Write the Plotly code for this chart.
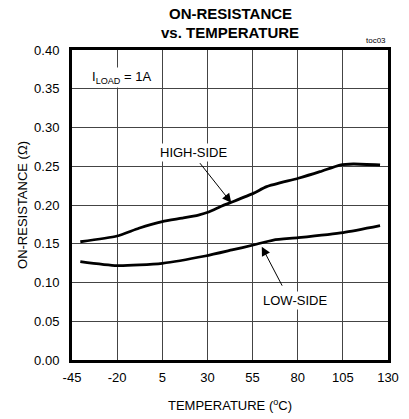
import plotly.graph_objects as go

temp_high = [-40.4, -20, -8, 5, 16, 25, 30.7, 38, 42.7, 55.4, 62.8, 80.3, 92.3, 103.4, 110.8, 125.6]
r_high = [0.1526, 0.160, 0.170, 0.1785, 0.183, 0.187, 0.191, 0.1987, 0.203, 0.215, 0.2237, 0.2345, 0.243, 0.2516, 0.2529, 0.2516]

temp_low = [-40.4, -20, 5, 28.8, 43.6, 55.4, 66.5, 80.3, 105.2, 125.6]
r_low = [0.1269, 0.1217, 0.1248, 0.1342, 0.142, 0.1484, 0.1548, 0.1578, 0.1643, 0.1733]

x_ticks = [-45, -20, 5, 30, 55, 80, 105, 130]
x_tick_text = ["-45", "-20", "5", "30", "55", "80", "105", "130"]
y_ticks = [0.00, 0.05, 0.10, 0.15, 0.20, 0.25, 0.30, 0.35, 0.40]

FONT = "Liberation Sans, Arial, sans-serif"
fig = go.Figure()
for tx, ry in ((temp_high, r_high), (temp_low, r_low)):
    fig.add_trace(go.Scatter(x=tx, y=ry, mode="lines", hoverinfo="skip",
                             line=dict(color="black", width=2.8, shape="spline", smoothing=0.6)))

fig.update_layout(
    width=409, height=419,
    margin=dict(l=72, r=21, t=50, b=59),
    paper_bgcolor="white", plot_bgcolor="white",
    showlegend=False,
    font=dict(family=FONT, size=13, color="black"),
)
fig.update_xaxes(range=[-45, 130], tickvals=x_ticks, ticktext=x_tick_text, showgrid=True,
                 gridcolor="#444444", gridwidth=1, zeroline=False, showline=True,
                 linecolor="black", linewidth=3, mirror=True, automargin=False,
                 ticks="outside", ticklen=3, tickcolor="rgba(0,0,0,0)",
                 title=dict(text="TEMPERATURE (<sup>o</sup>C)", standoff=18, font=dict(size=13)),
                 tickfont=dict(size=13))
fig.update_yaxes(range=[0, 0.40], tickvals=y_ticks, tickformat=".2f", showgrid=True,
                 gridcolor="#444444", gridwidth=1, zeroline=False, showline=True,
                 linecolor="black", linewidth=3, mirror=True, automargin=False,
                 ticks="outside", ticklen=7, tickcolor="rgba(0,0,0,0)",
                 title=dict(text="ON-RESISTANCE (Ω)", standoff=4, font=dict(size=13)),
                 tickfont=dict(size=13))

# title lines
fig.add_annotation(x=0.5, y=1.1177, xref="paper", yref="paper", yanchor="middle",
                   text="<b>ON-RESISTANCE</b>", showarrow=False, font=dict(size=15))
fig.add_annotation(x=0.5, y=1.0565, xref="paper", yref="paper", yanchor="middle",
                   text="<b>vs. TEMPERATURE</b>", showarrow=False, font=dict(size=15))

# arrows
fig.add_annotation(x=43.2, y=0.203, ax=25.2, ay=0.2559, xref="x", yref="y", axref="x", ayref="y",
                   text="", showarrow=True, arrowhead=2, arrowsize=1.8, arrowwidth=1,
                   arrowcolor="black")
fig.add_annotation(x=60.1, y=0.1462, ax=71.8, ay=0.094, xref="x", yref="y", axref="x", ayref="y",
                   text="", showarrow=True, arrowhead=2, arrowsize=1.8, arrowwidth=1,
                   arrowcolor="black")
fig.add_annotation(x=22.3, y=0.2675, text="HIGH-SIDE", showarrow=False, font=dict(size=13),
                   bgcolor="white", borderpad=1)
fig.add_annotation(x=78.5, y=0.0774, text="LOW-SIDE", showarrow=False, font=dict(size=13),
                   bgcolor="white", borderpad=1)
fig.add_annotation(x=-35, y=0.365, xanchor="left", text="I<sub>LOAD</sub> = 1A", showarrow=False,
                   font=dict(size=13), bgcolor="white", borderpad=1)
fig.add_annotation(x=1.0, y=1.0, xref="paper", yref="paper", xanchor="right", yanchor="bottom",
                   yshift=3, text="toc03", showarrow=False, font=dict(size=8))

fig.write_html("out.html", config={"displayModeBar": False},
               post_script="document.body.style.margin='0';document.body.style.overflow='hidden';")
